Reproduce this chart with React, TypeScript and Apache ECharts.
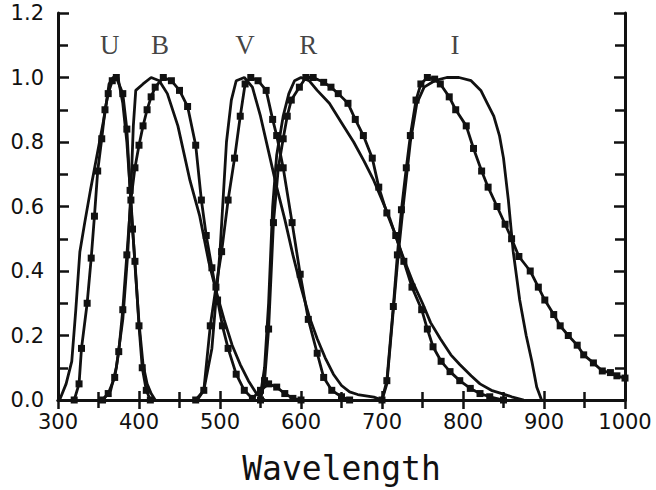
import React, { useEffect, useRef } from "react";
import * as echarts from "echarts";

// Wavelength (nm) / relative response pairs
const uPlain: number[][] = [[302,0],[310,0.05],[317,0.12],[322,0.28],[327,0.46],[333,0.55],[340,0.65],[346,0.73],[352,0.81],[358,0.89],[363,0.98],[368,1.0],[374,1.0],[380,0.92],[385,0.80],[390,0.62],[395,0.42],[400,0.24],[405,0.11],[410,0.05],[415,0.02],[420,0]];
const uSquares: number[][] = [[320,0],[326,0.05],[329,0.16],[336,0.30],[341,0.44],[345,0.57],[349,0.71],[354,0.81],[358,0.90],[362,0.95],[367,0.99],[372,1.0],[380,0.95],[385,0.84],[389,0.65],[392,0.53],[395,0.43],[400,0.23],[404,0.10],[409,0.03],[414,0]];

const bPlain: number[][] = [[355,0],[365,0.03],[372,0.10],[380,0.25],[386,0.45],[390,0.65],[393,0.85],[396,0.96],[405,0.98],[415,1.0],[425,0.99],[435,0.95],[448,0.85],[463,0.68],[475,0.57],[486,0.43],[495,0.34],[505,0.25],[515,0.17],[525,0.11],[535,0.06],[545,0.02],[555,0]];
const bSquares: number[][] = [[355,0],[362,0.02],[370,0.07],[375,0.15],[380,0.28],[385,0.45],[390,0.62],[395,0.72],[400,0.79],[405,0.85],[410,0.90],[415,0.94],[420,0.97],[430,1.0],[440,0.99],[450,0.96],[460,0.91],[470,0.79],[477,0.62],[483,0.51],[490,0.41],[497,0.31],[503,0.23],[510,0.16],[520,0.08],[530,0.03],[540,0.005],[550,0.03],[560,0.05],[570,0.04],[580,0.02],[590,0.005],[600,0]];

const vPlain: number[][] = [[472,0],[480,0.03],[490,0.16],[500,0.46],[508,0.80],[514,0.93],[520,0.99],[530,1.0],[540,0.97],[550,0.88],[560,0.77],[570,0.66],[580,0.56],[590,0.45],[600,0.35],[610,0.26],[620,0.19],[630,0.13],[640,0.08],[650,0.045],[660,0.025],[670,0.017],[680,0.013],[690,0.009],[700,0]];
const vSquares: number[][] = [[470,0],[480,0.03],[488,0.23],[495,0.35],[502,0.46],[510,0.62],[518,0.75],[525,0.88],[531,0.98],[538,1.0],[547,0.99],[557,0.96],[565,0.87],[570,0.82],[578,0.72],[589,0.55],[599,0.39],[609,0.25],[620,0.145],[628,0.07],[638,0.03],[650,0.01],[660,0]];

const rPlain: number[][] = [[549,0],[555,0.1],[560,0.3],[565,0.6],[570,0.76],[578,0.88],[585,0.95],[592,0.99],[600,1.0],[610,0.99],[620,0.96],[635,0.92],[650,0.86],[665,0.80],[678,0.74],[690,0.68],[700,0.62],[710,0.56],[718,0.50],[728,0.43],[739,0.36],[750,0.30],[760,0.24],[772,0.19],[785,0.14],[796,0.11],[810,0.075],[821,0.05],[835,0.03],[848,0.02],[860,0.01],[875,0]];
const rSquares: number[][] = [[550,0],[555,0.06],[560,0.22],[566,0.55],[572,0.72],[578,0.81],[583,0.88],[588,0.93],[598,0.97],[606,1.0],[615,1.0],[628,0.985],[637,0.97],[646,0.95],[658,0.92],[667,0.87],[677,0.82],[688,0.75],[696,0.66],[706,0.58],[717,0.51],[727,0.43],[737,0.35],[749,0.28],[756,0.22],[763,0.165],[773,0.12],[784,0.088],[796,0.06],[809,0.036],[821,0.02],[833,0.01],[850,0]];

const iPlain: number[][] = [[700,0],[706,0.05],[714,0.28],[720,0.45],[727,0.62],[735,0.80],[743,0.92],[752,0.97],[765,0.99],[780,1.0],[795,1.0],[810,0.99],[822,0.96],[830,0.92],[838,0.88],[845,0.82],[850,0.75],[856,0.62],[862,0.46],[870,0.31],[878,0.20],[885,0.12],[891,0.04],[897,0]];
const iSquares: number[][] = [[700,0],[706,0.06],[714,0.29],[719,0.45],[724,0.59],[730,0.72],[735,0.82],[742,0.93],[748,0.98],[756,1.0],[765,0.995],[772,0.98],[783,0.94],[791,0.90],[804,0.85],[813,0.78],[823,0.71],[831,0.66],[842,0.60],[852,0.545],[860,0.50],[869,0.445],[883,0.40],[893,0.35],[901,0.31],[912,0.265],[920,0.23],[930,0.20],[941,0.17],[949,0.14],[961,0.115],[972,0.09],[982,0.085],[990,0.075],[1000,0.068]];

const bandNames: string[] = ["U", "B", "V", "R", "I"];
const bandLabelPos: number[][] = [[364,1.1],[426,1.1],[531,1.1],[609,1.1],[790,1.1]];

const xTicks = { min: 300, max: 1000, step: 100 };
const yTicks = { min: 0, max: 1.2, step: 0.2 };

const INK = "#111";

function plainSeries(data: number[][]) {
  return {
    type: "line",
    data,
    showSymbol: false,
    symbol: "none",
    lineStyle: { color: INK, width: 2.8 },
    silent: true,
    z: 3,
  };
}
function squareSeries(data: number[][]) {
  return {
    type: "line",
    data,
    symbol: "rect",
    symbolSize: 7,
    itemStyle: { color: INK },
    lineStyle: { color: INK, width: 2.8 },
    silent: true,
    z: 4,
  };
}

export default function App() {
  const ref = useRef<HTMLDivElement>(null);
  useEffect(() => {
    if (!ref.current) return;
    const chart = echarts.init(ref.current, null, { renderer: "svg" });
    const axisLine = { show: true, lineStyle: { color: INK, width: 3 } };
    const tickFont = { fontFamily: "DejaVu Sans", fontSize: 21, color: INK };
    const tickStyle = { color: INK, width: 2.5 };
    chart.setOption({
      animation: false,
      backgroundColor: "#fff",
      grid: { left: 58, right: 31, top: 13, bottom: 90, containLabel: false },
      xAxis: [
        {
          type: "value",
          min: xTicks.min,
          max: xTicks.max,
          interval: xTicks.step,
          position: "bottom",
          axisLine,
          axisTick: { show: true, inside: true, length: 9, lineStyle: tickStyle },
          minorTick: { show: true, splitNumber: 2, length: 8, lineStyle: tickStyle },
          splitLine: { show: false },
          axisLabel: { ...tickFont, margin: 11, formatter: (v: number) => String(v) },
          name: "Wavelength",
          nameLocation: "middle",
          nameGap: 52,
          nameTextStyle: { fontFamily: "DejaVu Sans Mono", fontSize: 33, color: INK },
        },
        {
          type: "value",
          min: xTicks.min,
          max: xTicks.max,
          interval: xTicks.step,
          position: "top",
          axisLine,
          axisTick: { show: true, inside: true, length: 9, lineStyle: tickStyle },
          minorTick: { show: true, splitNumber: 2, length: 8, lineStyle: tickStyle },
          splitLine: { show: false },
          axisLabel: { show: false },
        },
      ],
      yAxis: [
        {
          type: "value",
          min: yTicks.min,
          max: yTicks.max,
          interval: yTicks.step,
          position: "left",
          axisLine,
          axisTick: { show: true, inside: true, length: 11, lineStyle: tickStyle },
          minorTick: { show: true, splitNumber: 2, length: 10, lineStyle: tickStyle },
          splitLine: { show: false },
          axisLabel: { ...tickFont, margin: 14, formatter: (v: number) => v.toFixed(1) },
        },
        {
          type: "value",
          min: yTicks.min,
          max: yTicks.max,
          interval: yTicks.step,
          position: "right",
          axisLine,
          axisTick: { show: true, inside: true, length: 11, lineStyle: tickStyle },
          minorTick: { show: true, splitNumber: 2, length: 10, lineStyle: tickStyle },
          splitLine: { show: false },
          axisLabel: { show: false },
        },
      ],
      series: [
        plainSeries(uPlain),
        squareSeries(uSquares),
        plainSeries(bPlain),
        squareSeries(bSquares),
        plainSeries(vPlain),
        squareSeries(vSquares),
        plainSeries(rPlain),
        squareSeries(rSquares),
        plainSeries(iPlain),
        squareSeries(iSquares),
        {
          type: "scatter",
          data: bandLabelPos.map((p, i) => ({ value: p, name: bandNames[i] })),
          symbolSize: 0,
          silent: true,
          label: {
            show: true,
            position: "inside",
            formatter: (p: any) => p.name,
            fontFamily: "Liberation Serif",
            fontSize: 27,
            color: INK,
          },
        },
      ],
    });
    return () => chart.dispose();
  }, []);
  return (
    <div
      ref={ref}
      style={{ position: "fixed", left: 0, top: 0, width: 656, height: 490, background: "#fff" }}
    />
  );
}
